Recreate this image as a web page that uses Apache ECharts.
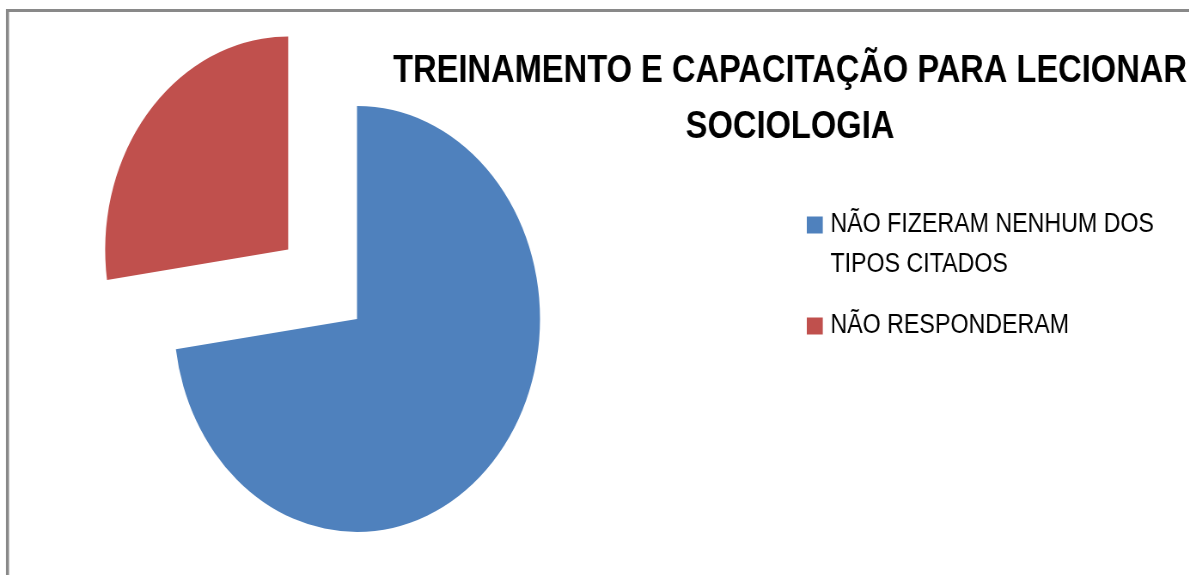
<!DOCTYPE html>
<html>
<head>
<meta charset="utf-8">
<script src="https://cdn.jsdelivr.net/npm/echarts@6/dist/echarts.min.js"></script>
<style>
  html, body { margin: 0; padding: 0; background: #ffffff; overflow: hidden; width: 1189px; height: 575px; }
  #chart { width: 1384px; height: 575px; transform: scaleX(0.8592); transform-origin: 0 0; }
</style>
</head>
<body>
<div id="chart"></div>
<script>
// ---- data ----
const categories = ['NÃO FIZERAM NENHUM DOS TIPOS CITADOS', 'NÃO RESPONDERAM'];
const values = [8, 3];
const colors = ['#4F81BD', '#C0504D'];
const titleLines = ['TREINAMENTO E CAPACITAÇÃO PARA LECIONAR', 'SOCIOLOGIA'];

// ---- chart ----
const chart = echarts.init(document.getElementById('chart'), null, { renderer: 'canvas' });
const FONT = '"Liberation Sans", Arial, sans-serif';

const pieData = categories.map((name, i) => ({
  name: name,
  value: values[i],
  selected: i === 1,
  itemStyle: { color: colors[i] }
}));

const legendText = {
  fontFamily: FONT,
  fontSize: 27,
  color: '#000000',
  lineHeight: 40,
  padding: [0, 0, 0, 4]
};

const option = {
  animation: false,
  backgroundColor: '#ffffff',
  legend: [
    {
      orient: 'vertical',
      left: 939,
      top: 165,
      padding: 0,
      icon: 'rect',
      itemWidth: 18.6,
      itemHeight: 17,
      selectedMode: false,
      data: [categories[0]],
      formatter: function (name) { return '\n' + name.replace('NENHUM DOS ', 'NENHUM DOS\n'); },
      textStyle: legendText
    },
    {
      orient: 'vertical',
      left: 939,
      top: 306,
      padding: 0,
      icon: 'rect',
      itemWidth: 18.6,
      itemHeight: 17,
      selectedMode: false,
      data: [categories[1]],
      textStyle: legendText
    }
  ],
  series: [{
    type: 'pie',
    center: [415.5, 319],
    radius: 213,
    startAngle: 90,
    clockwise: true,
    selectedMode: 'single',
    selectedOffset: 106,
    silent: true,
    label: { show: false },
    labelLine: { show: false },
    emphasis: { disabled: true },
    data: pieData
  }],
  graphic: [
    {
      type: 'text', x: 919.5, y: 72,
      style: { text: titleLines[0], fontFamily: FONT, fontSize: 38, fontWeight: 'bold', fill: '#000000', align: 'center', verticalAlign: 'middle' }
    },
    {
      type: 'text', x: 919.5, y: 128,
      style: { text: titleLines[1], fontFamily: FONT, fontSize: 38, fontWeight: 'bold', fill: '#000000', align: 'center', verticalAlign: 'middle' }
    },
    {
      type: 'line',
      shape: { x1: 7, y1: 10.5, x2: 1384, y2: 10.5 },
      style: { stroke: '#898989', lineWidth: 3 }
    },
    {
      type: 'line',
      shape: { x1: 8.7, y1: 9, x2: 8.7, y2: 575 },
      style: { stroke: '#898989', lineWidth: 3.5 }
    }
  ]
};
chart.setOption(option);
</script>
</body>
</html>
